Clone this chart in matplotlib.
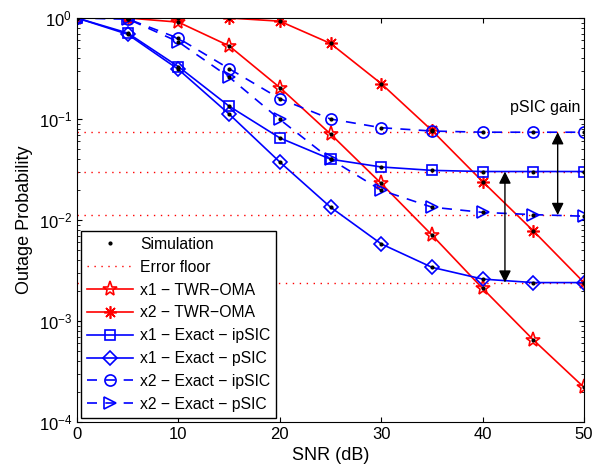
import numpy as np
import matplotlib.pyplot as plt

plt.rcParams['font.family'] = ['Liberation Sans', 'DejaVu Sans']

snr = [0, 5, 10, 15, 20, 25, 30, 35, 40, 45, 50]

x1_oma = [1, 1, 0.91, 0.53, 0.205, 0.071, 0.023, 0.0071, 0.0021, 0.00065, 0.00022]
x2_oma = [1, 1, 1, 1, 0.93, 0.56, 0.224, 0.077, 0.024, 0.0078, 0.0024]
x1_ipsic = [1, 0.71, 0.33, 0.134, 0.065, 0.040, 0.0335, 0.031, 0.0302, 0.0302, 0.0302]
x1_psic = [1, 0.69, 0.31, 0.112, 0.0375, 0.0134, 0.0058, 0.0034, 0.0026, 0.0024, 0.0024]
x2_ipsic = [1, 0.98, 0.63, 0.315, 0.159, 0.10, 0.082, 0.076, 0.074, 0.074, 0.074]
x2_psic = [1, 0.98, 0.58, 0.26, 0.099, 0.040, 0.0197, 0.0134, 0.0119, 0.0113, 0.0109]

floors = [0.074, 0.0302, 0.0112, 0.0024]

fig = plt.figure(figsize=(6.08, 4.75), dpi=100)
ax = fig.add_axes([0.1266, 0.1116, 0.834, 0.8505])

# simulation dots
for s in [x1_oma, x2_oma, x1_ipsic, x1_psic, x2_ipsic, x2_psic]:
    ax.plot(snr, s, '.', color='k', ms=4, zorder=5)
ax.plot([], [], '.', color='k', ms=4, label='Simulation')

for i, f in enumerate(floors):
    ax.plot([0, 50], [f, f], ':', color='red', lw=1, dashes=(1, 4),
            label='Error floor' if i == 0 else None)

ax.plot(snr, x1_oma, '-', color='red', lw=1.2, marker='*', ms=11, mfc='none', mew=1.2,
        label='x1 \u2212 TWR\u2212OMA')
ax.plot(snr, x2_oma, '-', color='red', lw=1.2, marker=(8, 2, 0), ms=9, mew=1.2,
        label='x2 \u2212 TWR\u2212OMA')
ax.plot(snr, x1_ipsic, '-', color='blue', lw=1.2, marker='s', ms=7, mfc='none', mew=1.2,
        label='x1 \u2212 Exact \u2212 ipSIC')
ax.plot(snr, x1_psic, '-', color='blue', lw=1.2, marker='D', ms=7, mfc='none', mew=1.2,
        label='x1 \u2212 Exact \u2212 pSIC')
ax.plot(snr, x2_ipsic, '--', color='blue', lw=1.2, marker='o', ms=8, mfc='none', mew=1.2,
        dashes=(6, 5), label='x2 \u2212 Exact \u2212 ipSIC')
ax.plot(snr, x2_psic, '--', color='blue', lw=1.2, marker='>', ms=8, mfc='none', mew=1.2,
        dashes=(6, 5), label='x2 \u2212 Exact \u2212 pSIC')

# gain arrows
ax.annotate('', xy=(47.4, floors[2]), xytext=(47.4, floors[0]),
            arrowprops=dict(arrowstyle='<|-|>', color='k', lw=1, mutation_scale=18,
                            shrinkA=0, shrinkB=0))
ax.annotate('', xy=(42.2, floors[3]), xytext=(42.2, floors[1]),
            arrowprops=dict(arrowstyle='<|-|>', color='k', lw=1, mutation_scale=18,
                            shrinkA=0, shrinkB=0))
ax.text(49.6, 0.13, 'pSIC gain', ha='right', va='center', fontsize=11.5)

ax.set_yscale('log')
ax.set_xlim(0, 50)
ax.set_ylim(1e-4, 1)
ax.set_xticks([0, 10, 20, 30, 40, 50])
ax.tick_params(which='both', direction='in', top=True, right=True, labelsize=12)
ax.set_xlabel('SNR (dB)', fontsize=13)
ax.set_ylabel('Outage Probability', fontsize=13)

leg = ax.legend(loc='lower left', fontsize=11.3, fancybox=False, edgecolor='k',
                framealpha=1, borderaxespad=0.25, handlelength=2.9, handletextpad=0.45,
                labelspacing=0.5)
leg.get_frame().set_linewidth(1)

fig.savefig('out.png', dpi=100)
